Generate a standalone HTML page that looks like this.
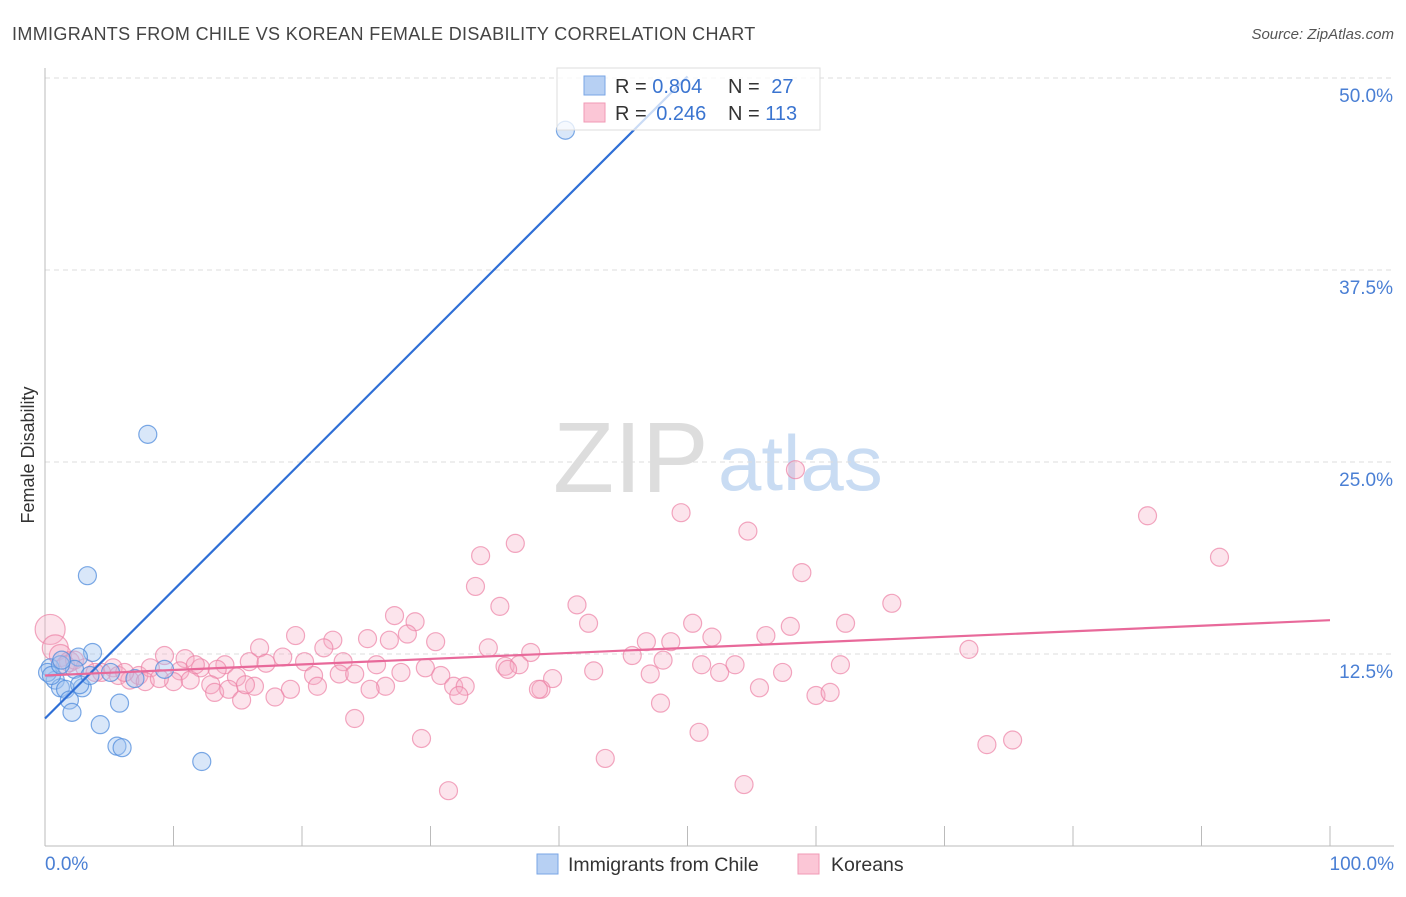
<!DOCTYPE html>
<html><head><meta charset="utf-8"><style>
body{margin:0;background:#fff;font-family:"Liberation Sans",sans-serif}
svg text{font-family:"Liberation Sans",sans-serif}
</style></head><body>
<svg id="chart" width="1406" height="892" xmlns="http://www.w3.org/2000/svg">
<text x="12" y="40" font-size="18" fill="#444" letter-spacing="0.35">IMMIGRANTS FROM CHILE VS KOREAN FEMALE DISABILITY CORRELATION CHART</text>
<text x="1394" y="39" font-size="15" fill="#555" text-anchor="end" font-style="italic">Source: ZipAtlas.com</text>
<g>
<text x="553" y="492" font-size="100" fill="#ddd" font-family="Liberation Serif">ZIP</text>
<text x="718" y="490" font-size="78" fill="#c9dcf3">atlas</text>
</g>
<g id="grid"></g>
<g id="yticks"></g>
<line x1="45" y1="68" x2="45" y2="846" stroke="#bbb"/>
<line x1="45" y1="846" x2="1394" y2="846" stroke="#bbb"/>
<g id="xticks"></g>
<text x="45" y="870" font-size="19" fill="#4a7fd4">0.0%</text>
<text x="1394" y="870" font-size="19" fill="#4a7fd4" text-anchor="end">100.0%</text>
<text transform="translate(34,455) rotate(-90)" font-size="18" fill="#333" text-anchor="middle">Female Disability</text>
<g id="pink"></g>
<g id="blue"></g>
<g id="trends"></g>
<g>
<rect x="557" y="68" width="263" height="62" fill="rgba(255,255,255,0.75)" stroke="#ddd"/>
<rect x="584" y="76" width="21" height="19" fill="#b7d0f3" stroke="#7aa6e6"/>
<rect x="584" y="103" width="21" height="19" fill="#fbc6d6" stroke="#f09ab5"/>
<text x="615" y="93" font-size="20" fill="#333">R = <tspan fill="#3a74d0">0.804</tspan></text>
<text x="728" y="93" font-size="20" fill="#333">N = <tspan fill="#3a74d0" dx="6">27</tspan></text>
<text x="615" y="120" font-size="20" fill="#333">R = <tspan fill="#3a74d0" dx="4">0.246</tspan></text>
<text x="728" y="120" font-size="20" fill="#333">N = <tspan fill="#3a74d0">113</tspan></text>
</g>
<g>
<rect x="537" y="854" width="21" height="20" fill="#b7d0f3" stroke="#7aa6e6"/>
<text x="568" y="871" font-size="19.5" fill="#333">Immigrants from Chile</text>
<rect x="798" y="854" width="21" height="20" fill="#fbc6d6" stroke="#f09ab5"/>
<text x="831" y="871" font-size="19.5" fill="#333">Koreans</text>
</g>
</svg>
<script>
const yTicks=[12.5,25,37.5,50];
const yTickLabels=["12.5%","25.0%","37.5%","50.0%"];
const xTicks=[10,20,30,40,50,60,70,80,90,100];
const chileX=[40.5,8.0,3.3,3.7,2.6,0.4,0.8,1.2,1.6,2.9,2.3,5.1,1.9,2.1,4.3,5.8,5.6,6.0,12.2,9.3,0.2,0.5,1.2,2.7,1.3,3.5,7.0];
const chileY=[46.6,26.8,17.6,12.6,12.3,11.6,10.8,10.3,10.2,10.3,11.5,11.3,9.5,8.7,7.9,9.3,6.5,6.4,5.5,11.5,11.3,11.1,11.8,10.5,12.1,11.1,10.9];
const korX=[58.4,49.5,54.7,85.8,91.4,36.6,33.9,33.5,35.4,41.4,58.9,65.9,27.2,28.8,28.2,42.3,50.4,58.0,62.3,19.5,22.4,25.1,26.8,30.4,34.5,37.8,46.8,48.7,51.9,56.1,16.7,21.7,71.9,9.3,10.9,14.0,15.9,17.2,18.5,20.2,23.2,25.8,29.6,35.8,36.9,45.7,48.1,51.1,53.7,61.9,12.1,13.4,5.3,4.4,5.7,7.3,8.2,10.5,10.0,11.3,12.9,14.9,20.9,22.9,24.1,27.7,30.8,36.0,39.5,42.7,47.1,52.5,57.4,16.3,19.1,17.9,13.2,14.3,15.3,21.2,26.5,25.3,31.8,32.7,32.2,38.6,55.6,60.0,61.1,47.9,24.1,29.3,50.9,73.3,75.3,43.6,54.4,31.4,0.4,0.8,1.2,1.9,1.6,2.3,3.1,3.9,6.6,7.8,8.9,6.2,11.7,15.6,38.4];
const korY=[24.5,21.7,20.5,21.5,18.8,19.7,18.9,16.9,15.6,15.7,17.8,15.8,15.0,14.6,13.8,14.5,14.5,14.3,14.5,13.7,13.4,13.5,13.4,13.3,12.9,12.6,13.3,13.3,13.6,13.7,12.9,12.9,12.8,12.4,12.2,11.8,12.0,11.9,12.3,12.0,12.0,11.8,11.6,11.7,11.8,12.4,12.1,11.8,11.8,11.8,11.6,11.5,11.6,11.3,11.1,11.1,11.6,11.4,10.7,10.8,10.5,11.0,11.1,11.2,11.2,11.3,11.1,11.5,10.9,11.4,11.2,11.3,11.3,10.4,10.2,9.7,10.0,10.2,9.5,10.4,10.4,10.2,10.4,10.4,9.8,10.2,10.3,9.8,10.0,9.3,8.3,7.0,7.4,6.6,6.9,5.7,4.0,3.6,14.1,12.9,12.4,12.0,11.8,12.1,11.6,11.3,10.8,10.7,10.9,11.3,11.8,10.5,10.2];
const korR=[9,9,9,9,9,9,9,9,9,9,9,9,9,9,9,9,9,9,9,9,9,9,9,9,9,9,9,9,9,9,9,9,9,9,9,9,9,9,9,9,9,9,9,9,9,9,9,9,9,9,9,9,9,9,9,9,9,9,9,9,9,9,9,9,9,9,9,9,9,9,9,9,9,9,9,9,9,9,9,9,9,9,9,9,9,9,9,9,9,9,9,9,9,9,9,9,9,9,15,13,11,10,9,9,9,9,9,9,9,9,9,9,9];
const chileTrend=[[0,8.3],[50,50.1]];
const korTrend=[[0,11.1],[100,14.7]];
const NS="http://www.w3.org/2000/svg";
const sx=v=>45+v*12.85;
const sy=v=>846-v*15.36;
function mk(tag,parent,attrs){const e=document.createElementNS(NS,tag);for(const k in attrs)e.setAttribute(k,attrs[k]);document.getElementById(parent).appendChild(e);return e;}
yTicks.forEach((t,i)=>{
 const g=mk('line','grid',{x1:45,x2:1394,y1:sy(t),y2:sy(t),stroke:'#ddd','stroke-dasharray':'5,4'});
 
 
 const l=mk('text','yticks',{x:1393,y:sy(t)+24,'font-size':19,fill:'#4a7fd4','text-anchor':'end'});
 l.textContent=yTickLabels[i];
 
 
});
xTicks.forEach(t=>{
 const l=mk('line','xticks',{x1:sx(t),x2:sx(t),y1:826,y2:846,stroke:'#bbb'});
 
 
});
korX.forEach((x,i)=>{
 const c=mk('circle','pink',{cx:sx(x),cy:sy(korY[i]),r:korR[i],fill:'rgba(246,170,196,0.32)',stroke:'rgba(236,130,165,0.7)','stroke-width':1.2});
 
 
});
chileX.forEach((x,i)=>{
 const c=mk('circle','blue',{cx:sx(x),cy:sy(chileY[i]),r:9,fill:'rgba(160,196,240,0.4)',stroke:'rgba(80,140,220,0.75)','stroke-width':1.2});
 
 
});
const bt=mk('line','trends',{x1:sx(chileTrend[0][0]),y1:sy(chileTrend[0][1]),x2:sx(chileTrend[1][0]),y2:sy(chileTrend[1][1]),stroke:'#2f6fd6','stroke-width':2.2});


const pt=mk('line','trends',{x1:sx(korTrend[0][0]),y1:sy(korTrend[0][1]),x2:sx(korTrend[1][0]),y2:sy(korTrend[1][1]),stroke:'#e8699a','stroke-width':2.2});


</script>
</body></html>
